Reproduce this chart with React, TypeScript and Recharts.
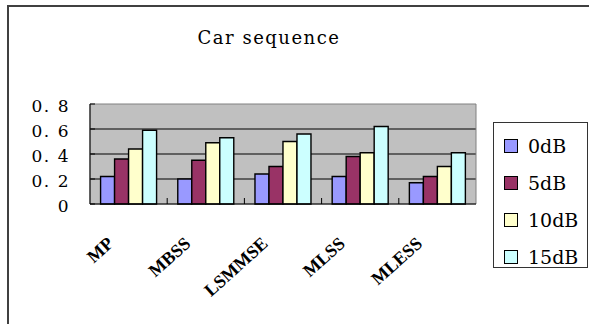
import React from 'react';
import {
  BarChart,
  Bar,
  XAxis,
  YAxis,
  CartesianGrid,
  ReferenceArea,
  Legend,
} from 'recharts';

const categories = ['MP', 'MBSS', 'LSMMSE', 'MLSS', 'MLESS'];
const seriesNames = ['0dB', '5dB', '10dB', '15dB'];
const values0dB = [0.22, 0.2, 0.24, 0.22, 0.17];
const values5dB = [0.36, 0.35, 0.3, 0.38, 0.22];
const values10dB = [0.44, 0.49, 0.5, 0.41, 0.3];
const values15dB = [0.59, 0.53, 0.56, 0.62, 0.41];
const yTicks = [0, 0.2, 0.4, 0.6, 0.8];
const yTickLabels = ['0', '0. 2', '0. 4', '0. 6', '0. 8'];

const colors = ['#9999ff', '#993366', '#ffffcc', '#ccffff'];
const seriesValues = [values0dB, values5dB, values10dB, values15dB];

const chartData = categories.map((name, i) => {
  const row: Record<string, string | number> = { name };
  seriesNames.forEach((s, j) => {
    row[s] = seriesValues[j][i];
  });
  return row;
});

const serif = "'DejaVu Serif', 'Liberation Serif', serif";

const YTick = (props: any) => {
  const { x, y, payload, index } = props;
  return (
    <g>
      <line x1={x + 20} y1={y} x2={x + 25} y2={y} stroke="#000" />
      <text
        x={x}
        y={y + 3}
        textAnchor="end"
        dominantBaseline="middle"
        fontFamily={serif}
        fontSize={17}
        letterSpacing={1.5}
        fill="#000"
      >
        {yTickLabels[index] ?? payload.value}
      </text>
    </g>
  );
};

const XTick = (props: any) => {
  const { x, y, payload } = props;
  const half = 38.6;
  return (
    <g>
      {payload.index > 0 && (
        <line x1={x - half} y1={y} x2={x - half} y2={y - 6} stroke="#000" />
      )}
      <text
        x={x - 14}
        y={y + 41}
        textAnchor="end"
        transform={`rotate(-42, ${x - 14}, ${y + 41})`}
        fontFamily="'Liberation Serif', serif"
        fontWeight="bold"
        fontSize={18}
        fill="#000"
      >
        {payload.value}
      </text>
    </g>
  );
};

// legend entries come straight from the series arrays, in series order
const LegendBox = () => (
  <div
    style={{
      width: 95,
      height: 146,
      border: '1px solid #333',
      boxSizing: 'border-box',
      background: '#fff',
      position: 'relative',
    }}
  >
    {seriesNames.map((name, i) => (
      <div
        key={name}
        style={{
          position: 'absolute',
          left: 10,
          top: 12 + i * 37,
          display: 'flex',
          alignItems: 'center',
          height: 22,
        }}
      >
        <span
          style={{
            width: 14,
            height: 14,
            boxSizing: 'border-box',
            border: '1px solid #000',
            background: colors[i],
            display: 'inline-block',
            marginRight: 10,
          }}
        />
        <span
          style={{
            fontFamily: serif,
            fontSize: 19,
            color: '#000',
          }}
        >
          {name}
        </span>
      </div>
    ))}
  </div>
);

export default function App() {
  return (
    <div
      style={{
        position: 'absolute',
        left: 0,
        top: 0,
        width: 589,
        height: 324,
        overflow: 'hidden',
        background: '#fff',
      }}
    >
      <div
        style={{
          position: 'absolute',
          left: 7,
          top: 5,
          width: 700,
          height: 400,
          border: '2px solid #404040',
        }}
      />
      <div style={{ position: 'absolute', left: 0, top: 0 }}>
        <BarChart
          width={589}
          height={324}
          data={chartData}
          margin={{ top: 104, right: 113, bottom: 90, left: 40 }}
          barCategoryGap="13.7%"
          barGap={0}
        >
          <text
            x={269}
            y={44}
            textAnchor="middle"
            fontFamily={serif}
            fontSize={18}
            letterSpacing={1.5}
            fill="#000"
          >
            Car sequence
          </text>
          <CartesianGrid
            vertical={false}
            horizontalValues={[0.2, 0.4, 0.6]}
            stroke="#000"
            fill="#c0c0c0"
            fillOpacity={1}
          />
          <ReferenceArea y1={0} y2={0.8} fill="none" stroke="#808080" ifOverflow="visible" />
          <XAxis
            dataKey="name"
            height={30}
            axisLine={{ stroke: '#000' }}
            tickLine={false}
            tickSize={0}
            tickMargin={0}
            tick={<XTick />}
            interval={0}
          />
          <YAxis
            width={50}
            domain={[0, 0.8]}
            ticks={yTicks}
            axisLine={{ stroke: '#000' }}
            tickLine={false}
            tickSize={0}
            tickMargin={20}
            tick={<YTick />}
            interval={0}
          />
          <Legend
            layout="vertical"
            align="center"
            verticalAlign="middle"
            content={<LegendBox />}
            wrapperStyle={{ left: 493, top: 122, width: 95, height: 146 }}
          />
          {seriesNames.map((s, j) => (
            <Bar
              key={s}
              dataKey={s}
              fill={colors[j]}
              stroke="#000"
              strokeWidth={1.4}
              isAnimationActive={false}
            />
          ))}
        </BarChart>
      </div>
    </div>
  );
}
